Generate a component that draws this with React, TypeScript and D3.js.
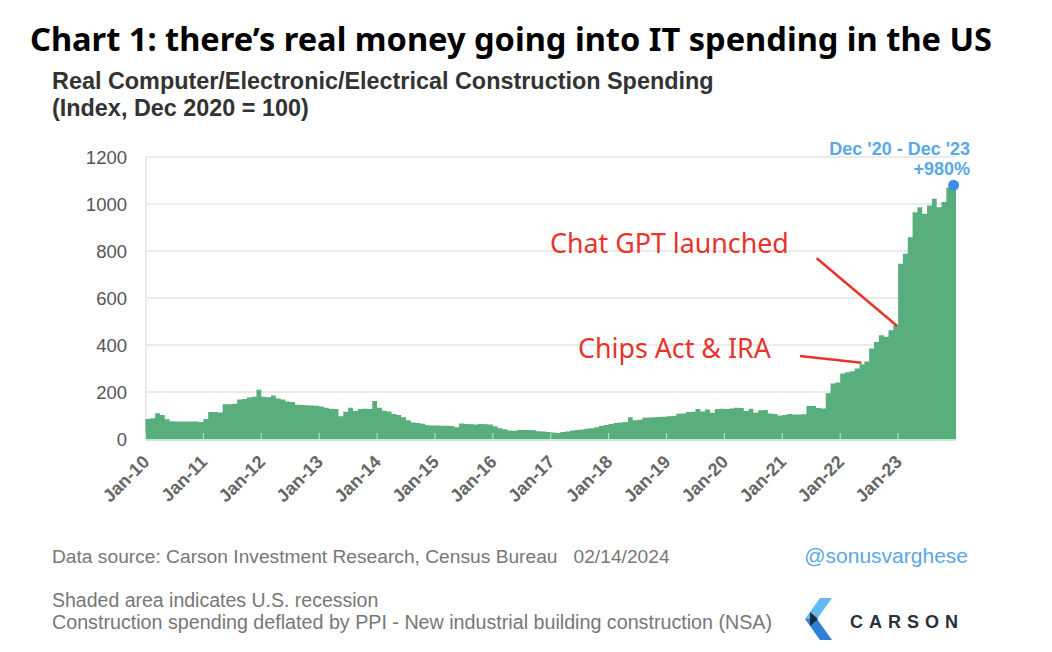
import React from 'react';
import * as d3 from 'd3';

// ---- data (monthly index, Dec 2020 = 100) ----
const v2010 = [85, 88, 110, 102, 84, 76, 75, 74, 75, 74, 75, 72];
const v2011 = [85, 115, 115, 113, 148, 148, 150, 168, 170, 177, 180, 210];
const v2012 = [180, 178, 185, 172, 168, 160, 157, 146, 145, 144, 143, 142];
const v2013 = [138, 133, 129, 128, 97, 116, 133, 119, 128, 129, 128, 162];
const v2014 = [133, 120, 117, 106, 102, 93, 80, 70, 68, 65, 58, 57];
const v2015 = [57, 56, 56, 55, 50, 66, 64, 63, 62, 64, 63, 62];
const v2016 = [54, 46, 42, 36, 35, 38, 38, 38, 37, 33, 32, 30];
const v2017 = [28, 26, 30, 32, 36, 38, 40, 44, 46, 50, 56, 60];
const v2018 = [64, 68, 70, 72, 93, 80, 82, 90, 92, 93, 94, 95];
const v2019 = [97, 98, 107, 108, 115, 116, 128, 117, 126, 112, 128, 129];
const v2020 = [128, 130, 133, 132, 119, 129, 112, 122, 123, 108, 106, 100];
const v2021 = [102, 106, 104, 104, 105, 140, 140, 132, 130, 195, 236, 240];
const v2022 = [279, 284, 288, 300, 318, 330, 385, 413, 442, 435, 463, 484];
const v2023 = [746, 788, 859, 965, 986, 958, 994, 1022, 986, 1008, 1070, 1080];

const values = [
  ...v2010, ...v2011, ...v2012, ...v2013, ...v2014, ...v2015, ...v2016,
  ...v2017, ...v2018, ...v2019, ...v2020, ...v2021, ...v2022, ...v2023,
];

const xTickLabels = [
  'Jan-10', 'Jan-11', 'Jan-12', 'Jan-13', 'Jan-14', 'Jan-15', 'Jan-16',
  'Jan-17', 'Jan-18', 'Jan-19', 'Jan-20', 'Jan-21', 'Jan-22', 'Jan-23',
];
const yTicks = [0, 200, 400, 600, 800, 1000, 1200];

const annotations = [
  { label: 'Chat GPT launched', month: 155.8, value: 481 },
  { label: 'Chips Act & IRA', month: 148.4, value: 324 },
];

export default function App() {
  const W = 1052;
  const H = 652;
  const x = d3.scaleLinear().domain([0, 168]).range([145.5, 956]);
  const y = d3.scaleLinear().domain([0, 1200]).range([439, 157]);

  const stepData = [...values, values[values.length - 1]];
  const area = d3
    .area<number>()
    .x((_, i) => x(i))
    .y0(y(0))
    .y1((d) => y(d))
    .curve(d3.curveStepAfter);

  const sans = "'Liberation Sans', Arial, sans-serif";
  const hum = "'Noto Sans', 'Open Sans', sans-serif";
  const red = '#e8342b';
  const blue = '#58a9e6';

  // annotation layout (text + line start)
  const annLayout = [
    { tx: 550, ty: 253, lx: 816.7, ly: 258.3 },
    { tx: 578, ty: 358, lx: 800, ly: 356 },
  ];

  return (
    <svg
      width={W}
      height={H}
      style={{ position: 'absolute', left: 0, top: 0, background: '#fff' }}
    >
      <rect x={0} y={0} width={W} height={H} fill="#fff" />
      {/* title */}
      <text x={30} y={51} fontFamily={hum} fontWeight={700} fontSize={32.6} fill="#000">
        Chart 1: there’s real money going into IT spending in the US
      </text>
      <text x={52} y={89} fontFamily={sans} fontWeight={700} fontSize={23.4} fill="#333">
        Real Computer/Electronic/Electrical Construction Spending
      </text>
      <text x={52} y={116} fontFamily={sans} fontWeight={700} fontSize={23.4} fill="#333">
        (Index, Dec 2020 = 100)
      </text>

      {/* gridlines */}
      {yTicks.map((t) => (
        <line
          key={'g' + t}
          x1={x(0)}
          x2={x(168)}
          y1={y(t)}
          y2={y(t)}
          stroke="#e4e4e4"
          strokeWidth={1.5}
        />
      ))}
      <line x1={x(0) + 0.5} x2={x(0) + 0.5} y1={y(1200)} y2={y(0)} stroke="#e4e4e4" strokeWidth={1.5} />

      {/* y labels */}
      {yTicks.map((t) => (
        <text
          key={'yl' + t}
          x={127}
          y={y(t) + 6.5}
          textAnchor="end"
          fontFamily={sans}
          fontSize={18.5}
          fill="#555"
        >
          {t}
        </text>
      ))}

      {/* area */}
      <path d={area(stepData) || ''} fill="#58ae7d" />
      <line x1={x(0)} x2={x(168)} y1={y(0) + 1} y2={y(0) + 1} stroke="#c6eadc" strokeWidth={2} />

      {/* x ticks & labels */}
      {xTickLabels.map((lab, i) => {
        const xp = x(i * 12);
        return (
          <g key={lab}>
            <line x1={xp} x2={xp} y1={y(0)} y2={y(0) - 6} stroke="#ffffff" strokeOpacity={0.55} strokeWidth={1.2} />
            <text
              transform={`translate(${xp + 5},${y(0) + 24}) rotate(-45)`}
              textAnchor="end"
              fontFamily={sans}
              fontWeight={700}
              fontSize={18}
              fill="#666"
            >
              {lab}
            </text>
          </g>
        );
      })}

      {/* annotations */}
      {annotations.map((a, i) => (
        <g key={a.label}>
          <line
            x1={annLayout[i].lx}
            y1={annLayout[i].ly}
            x2={x(a.month)}
            y2={y(a.value)}
            stroke={red}
            strokeWidth={2.5}
          />
          <text x={annLayout[i].tx} y={annLayout[i].ty} fontFamily={hum} fontSize={26.8} fill={red}>
            {a.label}
          </text>
        </g>
      ))}

      {/* end point */}
      <circle cx={x(167.5)} cy={y(values[values.length - 1])} r={5.5} fill="#3d8fe3" />
      <text x={970} y={155} textAnchor="end" fontFamily={sans} fontWeight={700} fontSize={18} fill={blue}>
        Dec '20 - Dec '23
      </text>
      <text x={970} y={175} textAnchor="end" fontFamily={sans} fontWeight={700} fontSize={18} fill={blue}>
        +980%
      </text>

      {/* footer */}
      <text x={52} y={563} fontFamily={sans} fontSize={19.2} fill="#777">
        Data source: Carson Investment Research, Census Bureau{'\u00a0\u00a0\u00a0'}02/14/2024
      </text>
      <text x={968} y={563} textAnchor="end" fontFamily={sans} fontSize={21} fill={blue}>
        @sonusvarghese
      </text>
      <text x={52} y={607} fontFamily={sans} fontSize={19.5} fill="#777">
        Shaded area indicates U.S. recession
      </text>
      <text x={52} y={629} fontFamily={sans} fontSize={19.7} fill="#777">
        Construction spending deflated by PPI - New industrial building construction (NSA)
      </text>

      {/* CARSON logo */}
      <g>
        <polygon points="820,598 832,598 817,619 805,619" fill="#66b8f2" />
        <polygon points="805,619 817,619 832,640 820,640" fill="#2f7fd8" />
        <polygon points="810,612 818,619 810,626" fill="#1c2a3a" />
      </g>
      <text x={850} y={628} fontFamily={sans} fontWeight={700} fontSize={18} letterSpacing={6} fill="#26313d">
        CARSON
      </text>
    </svg>
  );
}
